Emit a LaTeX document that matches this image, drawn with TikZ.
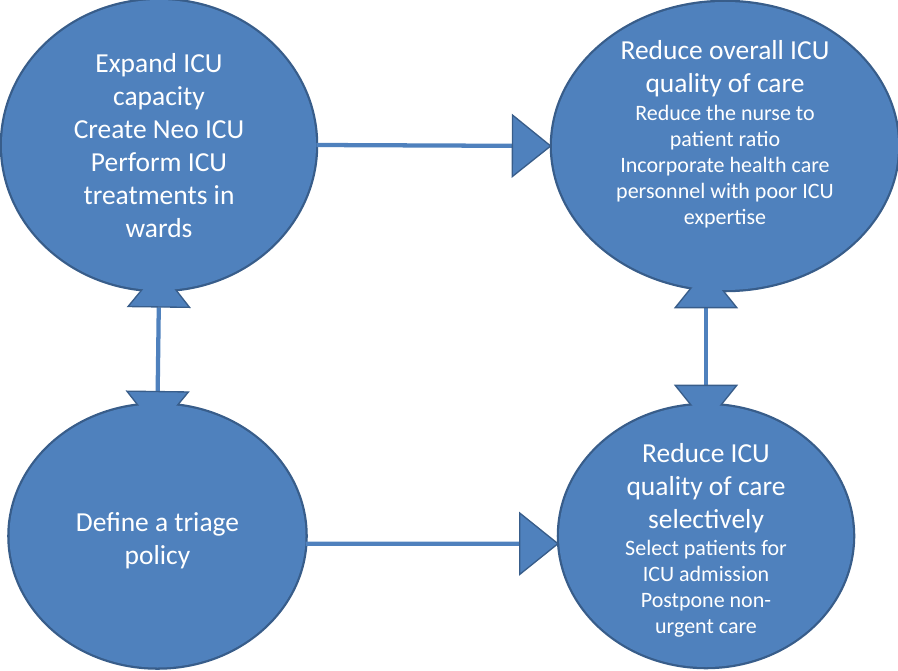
\documentclass[tikz,border=0pt]{standalone}
\usepackage{fontspec}
\setmainfont{Carlito}
\usetikzlibrary{shapes.geometric,arrows.meta,calc}
\definecolor{bubblefill}{HTML}{4F81BD}
\definecolor{bubbleedge}{HTML}{385D8A}
\newcommand{\pix}{0.75pt}
\pgfdeclarelayer{rims}
\pgfdeclarelayer{links}
\pgfsetlayers{rims,links,main}

\begin{document}
\begin{tikzpicture}[x=0.75pt,y=-0.75pt,
	bubble/.style={ellipse, fill=bubblefill, inner sep=0pt},
	rim/.style={draw=bubbleedge, line width=3pt},
	fat/.tip={Triangle[length=30pt, width=48pt, fill=bubblefill, color=bubbleedge, line width=1pt]},
	link/.style={draw=bubblefill, line width=3.2pt},
	bigtext/.style={text=white, align=center, inner sep=0pt, font=\fontsize{20.6}{24.75}\selectfont},
	smalltext/.style={text=white, align=center, inner sep=0pt, font=\fontsize{16.5}{19.5}\selectfont}]
	\useasboundingbox (0,0) rectangle (898,670);
	% the four options
	\node[bubble, minimum width=314*\pix, minimum height=290*\pix] (expand) at (159,145) {};
	\node[bubble, minimum width=346*\pix, minimum height=288*\pix] (overall) at (725,146) {};
	\node[bubble, minimum width=296*\pix, minimum height=263*\pix] (triage) at (157.5,536) {};
	\node[bubble, minimum width=294*\pix, minimum height=262*\pix] (selective) at (706,536) {};
	\node[bigtext] (expandtext) at (159,146) {Expand ICU\\capacity\\Create Neo ICU\\Perform ICU\\treatments in\\wards};
	\node[bigtext] (overallhead) at (725,68.5) {Reduce overall ICU\\quality of care};
	\node[smalltext] (overalllist) at (725,167) {Reduce the nurse to\\patient ratio\\Incorporate health care\\personnel with poor ICU\\expertise};
	\node[bigtext] (triagetext) at (157.5,540.5) {Define a triage\\policy};
	\node[bigtext] (selectivehead) at (706,488) {Reduce ICU\\quality of care\\selectively};
	\node[smalltext] (selectivelist) at (706,589) {Select patients for\\ICU admission\\Postpone non-\\urgent care};
	% connectors under the fills
	\begin{pgfonlayer}{links}
		\draw[link, -fat] (expand.east) -- (overall.west);
		\draw[link, -fat] (triage.-3.5) -- (selective.183.5);
		\draw[link, fat-fat, shorten <=-17pt, shorten >=-20pt] (expand.south) -- (triage.north);
		\draw[link, fat-fat, shorten <=-16.5pt, shorten >=-15pt] (selective.north |- overall.south) -- (selective.north);
	\end{pgfonlayer}
	\begin{pgfonlayer}{rims}
		\foreach \b in {expand,overall,triage,selective}
			\draw[rim] let \p0=(\b.center), \p1=(\b.east), \p2=(\b.north) in (\p0) ellipse ({\x1-\x0} and {\y2-\y0});
	\end{pgfonlayer}
\end{tikzpicture}
\end{document}
